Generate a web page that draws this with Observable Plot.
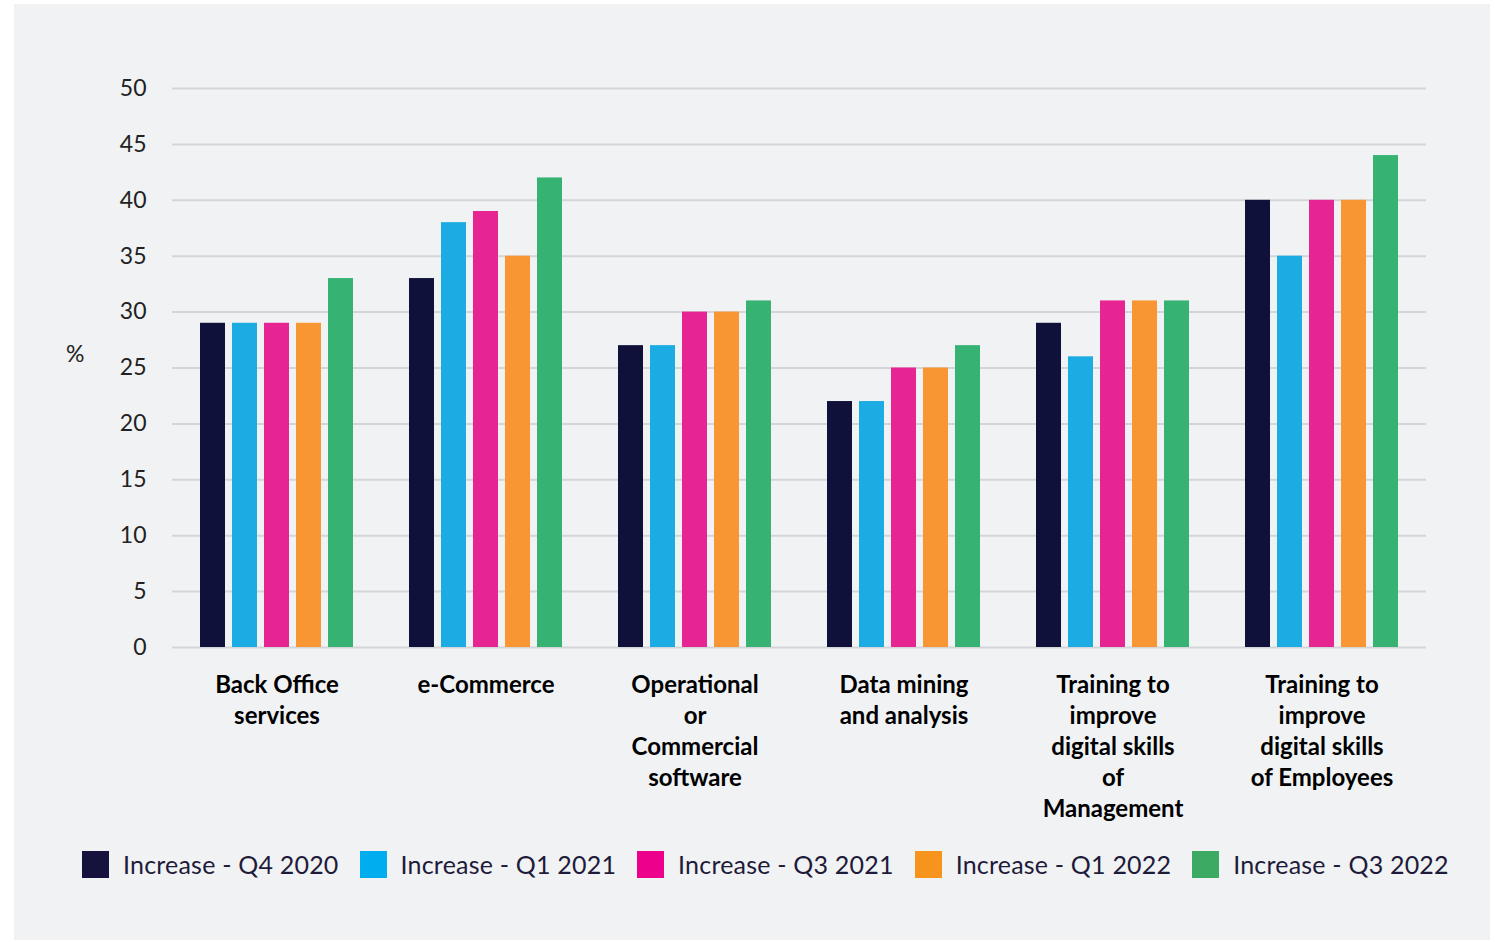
<!DOCTYPE html>
<html>
<head>
<meta charset="utf-8">
<script src="https://cdn.jsdelivr.net/npm/d3@7"></script>
<script src="https://cdn.jsdelivr.net/npm/@observablehq/plot@0.6"></script>
<style>
  html, body { margin: 0; padding: 0; background: #ffffff; }
  #panel { position: absolute; left: 14px; top: 4px; width: 1476px; height: 936px; background: #f1f2f4; font-family: Lato, "Open Sans", sans-serif; }
  #chart { position: absolute; left: 0; top: 0; }
  #unit { position: absolute; left: 52px; top: 335px; font-size: 23px; color: #222; }
  #legend { position: absolute; left: 68px; top: 845px; display: flex; align-items: center; }
  .item { display: flex; align-items: center; margin-right: 21px; }
  .sw { width: 27px; height: 27px; margin-right: 14px; }
  .lab { font-size: 25px; color: #1e1b3a; font-weight: 400; letter-spacing: 0.2px; }
</style>
</head>
<body>
<div id="panel">
  <div id="chart"></div>
  <div id="unit">%</div>
  <div id="legend"></div>
</div>
<script>
const categories = ["Back Office services", "e-Commerce", "Operational or Commercial software", "Data mining and analysis", "Training to improve digital skills of Management", "Training to improve digital skills of Employees"];
const categoryLabels = ["Back Office\nservices", "e-Commerce", "Operational\nor\nCommercial\nsoftware", "Data mining\nand analysis", "Training to\nimprove\ndigital skills\nof\nManagement", "Training to\nimprove\ndigital skills\nof Employees"];
const seriesNames = ["Increase - Q4 2020", "Increase - Q1 2021", "Increase - Q3 2021", "Increase - Q1 2022", "Increase - Q3 2022"];
const q4_2020 = [29, 33, 27, 22, 29, 40];
const q1_2021 = [29, 38, 27, 22, 26, 35];
const q3_2021 = [29, 39, 30, 25, 31, 40];
const q1_2022 = [29, 35, 30, 25, 31, 40];
const q3_2022 = [33, 42, 31, 27, 31, 44];
const yTicks = [0, 5, 10, 15, 20, 25, 30, 35, 40, 45, 50];
const barColors = ["#10113a", "#1aace2", "#e72592", "#f79632", "#36b273"];
const legendColors = ["#15133d", "#00adef", "#ec008c", "#f7941d", "#3caa63"];

const seriesValues = [q4_2020, q1_2021, q3_2021, q1_2022, q3_2022];
const rows = [];
categories.forEach((c, i) => {
  seriesNames.forEach((s, j) => rows.push({category: c, series: s, value: seriesValues[j][i]}));
});

const chart = Plot.plot({
  width: 1476,
  height: 836,
  marginLeft: 157,
  marginRight: 63,
  marginTop: 84,
  marginBottom: 193,
  style: {fontFamily: "Lato, 'Open Sans', sans-serif", background: "transparent", color: "#222"},
  fx: {domain: categories, padding: 0, axis: null},
  x: {domain: seriesNames, paddingInner: 0.22, paddingOuter: 0.86, axis: null},
  y: {domain: [0, 50], axis: null},
  color: {domain: seriesNames, range: barColors},
  marks: [
    Plot.ruleY(yTicks, {stroke: "#d3d5d8", strokeWidth: 2}),
    Plot.barY(rows, {fx: "category", x: "series", y: "value", fill: "series"}),
    Plot.axisY({ticks: yTicks, tickSize: 0, tickPadding: 26, fontSize: 23, label: null, fill: "#222"}),
    Plot.axisFx({anchor: "bottom", tickSize: 0, tickPadding: 24, fontSize: 24, fontWeight: "bold", lineHeight: 1.29, label: null, fill: "#000",
      tickFormat: d => categoryLabels[categories.indexOf(d)]})
  ]
});
document.getElementById("chart").appendChild(chart);

const legend = document.getElementById("legend");
seriesNames.forEach((s, j) => {
  const item = document.createElement("div");
  item.className = "item";
  const sw = document.createElement("div");
  sw.className = "sw";
  sw.style.background = legendColors[j];
  const lab = document.createElement("span");
  lab.className = "lab";
  lab.textContent = s;
  item.appendChild(sw);
  item.appendChild(lab);
  legend.appendChild(item);
});
</script>
</body>
</html>
